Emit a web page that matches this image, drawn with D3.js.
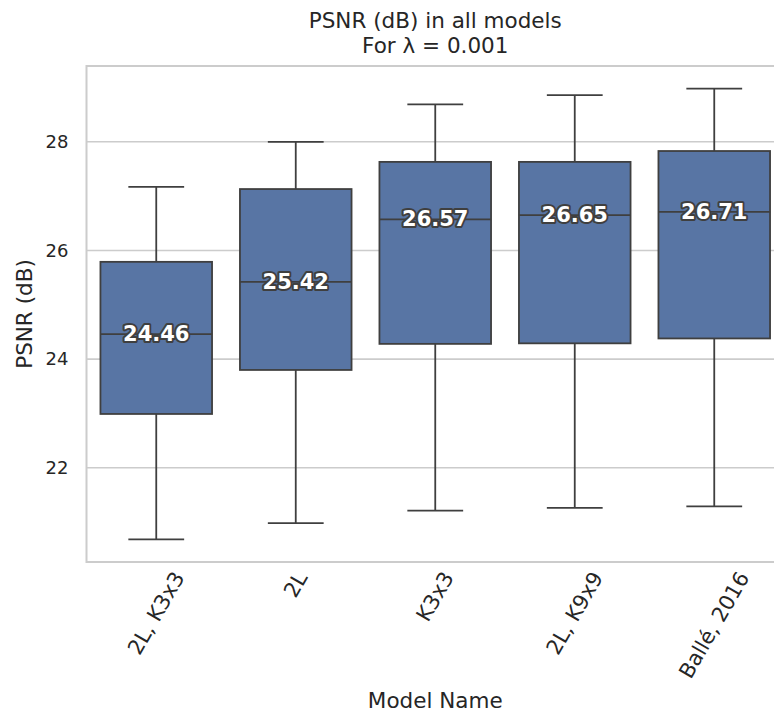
<!DOCTYPE html>
<html>
<head>
<meta charset="utf-8">
<script src="https://cdn.jsdelivr.net/npm/d3@7"></script>
<style>
  html, body { margin: 0; padding: 0; background: #ffffff; }
  svg { display: block; font-family: "DejaVu Sans", sans-serif; }
</style>
</head>
<body>
<svg id="chart" width="774" height="716"></svg>
<script>
// Box statistics per model (PSNR in dB, λ = 0.001)
const models      = ["2L, K3x3", "2L", "K3x3", "2L, K9x9", "Ballé, 2016"];
const whiskerLow  = [20.68, 20.98, 21.21, 21.26, 21.29];
const q1          = [22.99, 23.80, 24.28, 24.29, 24.38];
const medians     = [24.46, 25.42, 26.57, 26.65, 26.71];
const q3          = [25.79, 27.13, 27.63, 27.63, 27.83];
const whiskerHigh = [27.17, 28.00, 28.69, 28.86, 28.98];
const yTicks      = [22, 24, 26, 28];

const titleLines = ["PSNR (dB) in all models", "For λ = 0.001"];
const xLabel = "Model Name";
const yLabel = "PSNR (dB)";

const rows = models.map((m, i) => ({
  model: m, lo: whiskerLow[i], q1: q1[i], med: medians[i], q3: q3[i], hi: whiskerHigh[i]
}));

const svg = d3.select("#chart");
const margin = { left: 86.5, top: 66, right: 784, bottom: 562 };

const textColor = "#262626";
const gridColor = "#cccccc";
const boxFill = "#5875a4";
const lineColor = "#3f3f3f";

// y range padded by 5% of the data span on both sides
const yMin = d3.min(whiskerLow), yMax = d3.max(whiskerHigh);
const pad = (yMax - yMin) * 0.05;
const y = d3.scaleLinear().domain([yMin - pad, yMax + pad]).range([margin.bottom, margin.top]);

const x = d3.scaleBand().domain(models).range([margin.left, margin.right]).paddingInner(0).paddingOuter(0);
const boxW = x.bandwidth() * 0.8;
const capW = boxW / 2;

// horizontal grid
svg.append("g")
  .selectAll("line").data(yTicks).join("line")
  .attr("x1", margin.left).attr("x2", margin.right)
  .attr("y1", d => y(d)).attr("y2", d => y(d))
  .attr("stroke", gridColor).attr("stroke-width", 1.6);

// frame
svg.append("rect")
  .attr("x", margin.left).attr("y", margin.top)
  .attr("width", margin.right - margin.left).attr("height", margin.bottom - margin.top)
  .attr("fill", "none").attr("stroke", gridColor).attr("stroke-width", 2);

// y axis tick labels
const yAxis = d3.axisLeft(y).tickValues(yTicks).tickSize(0).tickPadding(18).tickFormat(d3.format("d"));
const gy = svg.append("g").attr("transform", `translate(${margin.left},0)`).call(yAxis);
gy.select(".domain").remove();
gy.selectAll("text").attr("fill", textColor).style("font-size", "18px").style("font-family", "DejaVu Sans");

// boxes
const g = svg.append("g");
rows.forEach(r => {
  const cx = x(r.model) + x.bandwidth() / 2;
  const gg = g.append("g");
  // whiskers
  gg.append("line").attr("x1", cx).attr("x2", cx).attr("y1", y(r.q3)).attr("y2", y(r.hi))
    .attr("stroke", lineColor).attr("stroke-width", 1.8);
  gg.append("line").attr("x1", cx).attr("x2", cx).attr("y1", y(r.q1)).attr("y2", y(r.lo))
    .attr("stroke", lineColor).attr("stroke-width", 1.8);
  // caps
  [r.hi, r.lo].forEach(v => {
    gg.append("line").attr("x1", cx - capW / 2).attr("x2", cx + capW / 2)
      .attr("y1", y(v)).attr("y2", y(v))
      .attr("stroke", lineColor).attr("stroke-width", 1.8);
  });
  // box
  gg.append("rect")
    .attr("x", cx - boxW / 2).attr("y", y(r.q3))
    .attr("width", boxW).attr("height", y(r.q1) - y(r.q3))
    .attr("fill", boxFill).attr("stroke", lineColor).attr("stroke-width", 1.8);
  // median
  gg.append("line").attr("x1", cx - boxW / 2).attr("x2", cx + boxW / 2)
    .attr("y1", y(r.med)).attr("y2", y(r.med))
    .attr("stroke", lineColor).attr("stroke-width", 1.8);
  // median label
  gg.append("text")
    .attr("x", cx).attr("y", y(r.med))
    .attr("text-anchor", "middle").attr("dominant-baseline", "central")
    .attr("fill", "#ffffff").attr("stroke", lineColor).attr("stroke-width", 4)
    .attr("stroke-linejoin", "round").attr("paint-order", "stroke")
    .style("font-size", "21px").style("font-weight", "bold")
    .text(d3.format(".2f")(r.med));
});

// x tick labels rotated 60°, bounding box centred under each tick
const labelTop = 568;
const fs = 21;
svg.append("g").selectAll("text").data(models).join("text")
  .attr("fill", textColor).style("font-size", fs + "px")
  .attr("text-anchor", "middle").attr("dominant-baseline", "central")
  .text(d => d)
  .each(function(d) {
    const w = this.getComputedTextLength();
    const h = fs * 1.1;
    const a = Math.PI / 3;
    const H = w * Math.sin(a) + h * Math.cos(a);
    const cx = x(d) + x.bandwidth() / 2;
    const cy = labelTop + H / 2;
    d3.select(this).attr("x", cx).attr("y", cy)
      .attr("transform", `rotate(-60,${cx},${cy})`);
  });

// axis titles
svg.append("text").attr("x", (margin.left + margin.right) / 2).attr("y", 708)
  .attr("text-anchor", "middle").attr("fill", textColor).style("font-size", "21.5px")
  .text(xLabel);
svg.append("text")
  .attr("transform", `translate(32,${(margin.top + margin.bottom) / 2}) rotate(-90)`)
  .attr("text-anchor", "middle").attr("fill", textColor).style("font-size", "21.5px")
  .text(yLabel);

// chart title
svg.append("g").selectAll("text").data(titleLines).join("text")
  .attr("x", (margin.left + margin.right) / 2)
  .attr("y", (d, i) => 28 + i * 25)
  .attr("text-anchor", "middle").attr("fill", textColor).style("font-size", "21.5px")
  .text(d => d);
</script>
</body>
</html>
